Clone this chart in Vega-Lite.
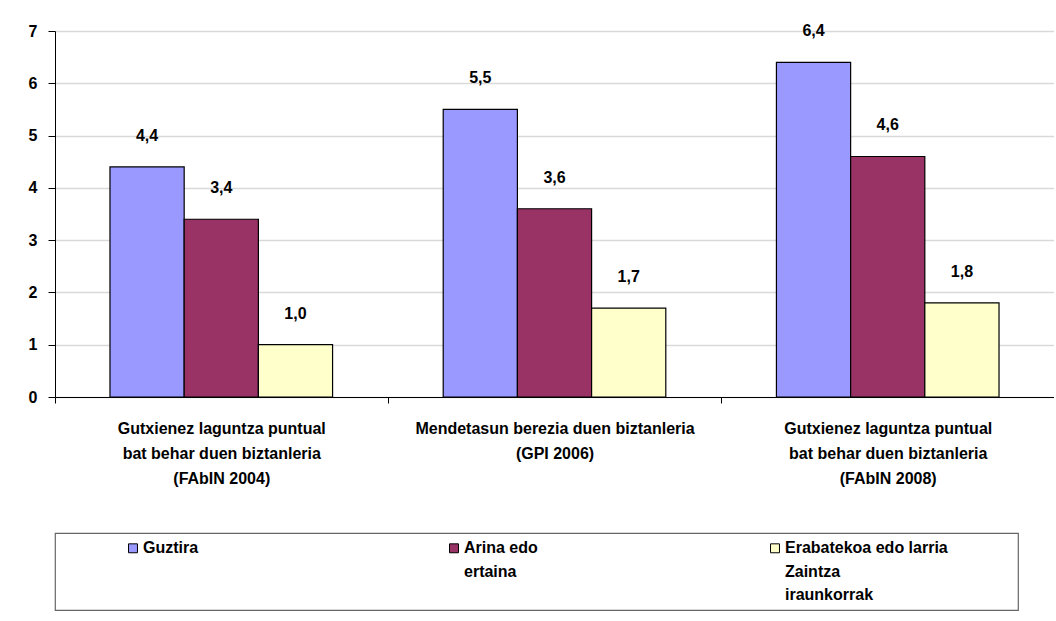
{
  "$schema": "https://vega.github.io/schema/vega-lite/v6.json",
  "background": "white",
  "padding": {"left": 28, "top": 23, "right": 0, "bottom": 0},
  "spacing": 46,
  "config": {
    "locale": {"number": {"decimal": ",", "thousands": ".", "grouping": [3], "currency": ["", " €"]}},
    "font": "Liberation Sans",
    "view": {"stroke": null}
  },
  "datasets": {
    "bars": [
      {"group": "Gutxienez laguntza puntual\nbat behar duen biztanleria\n(FAbIN 2004)", "series": "Guztira", "value": 4.4},
      {"group": "Gutxienez laguntza puntual\nbat behar duen biztanleria\n(FAbIN 2004)", "series": "Arina edo ertaina", "value": 3.4},
      {"group": "Gutxienez laguntza puntual\nbat behar duen biztanleria\n(FAbIN 2004)", "series": "Erabatekoa edo larria Zaintza iraunkorrak", "value": 1.0},
      {"group": "Mendetasun berezia duen biztanleria\n(GPI 2006)", "series": "Guztira", "value": 5.5},
      {"group": "Mendetasun berezia duen biztanleria\n(GPI 2006)", "series": "Arina edo ertaina", "value": 3.6},
      {"group": "Mendetasun berezia duen biztanleria\n(GPI 2006)", "series": "Erabatekoa edo larria Zaintza iraunkorrak", "value": 1.7},
      {"group": "Gutxienez laguntza puntual\nbat behar duen biztanleria\n(FAbIN 2008)", "series": "Guztira", "value": 6.4},
      {"group": "Gutxienez laguntza puntual\nbat behar duen biztanleria\n(FAbIN 2008)", "series": "Arina edo ertaina", "value": 4.6},
      {"group": "Gutxienez laguntza puntual\nbat behar duen biztanleria\n(FAbIN 2008)", "series": "Erabatekoa edo larria Zaintza iraunkorrak", "value": 1.8}
    ],
    "legendItems": [
      {"series": "Guztira", "line": 1, "text": "Guztira"},
      {"series": "Arina edo ertaina", "line": 1, "text": "Arina edo"},
      {"series": "Arina edo ertaina", "line": 2, "text": "ertaina"},
      {"series": "Erabatekoa edo larria Zaintza iraunkorrak", "line": 1, "text": "Erabatekoa edo larria"},
      {"series": "Erabatekoa edo larria Zaintza iraunkorrak", "line": 2, "text": "Zaintza"},
      {"series": "Erabatekoa edo larria Zaintza iraunkorrak", "line": 3, "text": "iraunkorrak"}
    ]
  },
  "vconcat": [
    {
      "width": 999,
      "height": 366,
      "data": {"name": "bars"},
      "encoding": {
        "x": {
          "field": "group", "type": "nominal", "sort": null, "title": null,
          "scale": {"paddingInner": 0.332, "paddingOuter": 0.165},
          "axis": {
            "labelAngle": 0, "labelExpr": "split(datum.label, '\\n')",
            "labelFontSize": 16, "labelFontWeight": "bold", "labelColor": "black",
            "labelLineHeight": 25, "labelLimit": 400, "labelPadding": 17, "labelBaseline": "top",
            "tickOffset": -166.6, "labelOffset": 166.6, "tickSize": 6, "tickColor": "black",
            "domainColor": "black", "grid": false
          }
        },
        "xOffset": {
          "field": "series", "type": "nominal",
          "sort": ["Guztira", "Arina edo ertaina", "Erabatekoa edo larria Zaintza iraunkorrak"],
          "scale": {"paddingInner": 0, "paddingOuter": 0}
        },
        "y": {
          "field": "value", "type": "quantitative", "title": null,
          "scale": {"domain": [0, 7], "nice": false},
          "axis": {
            "values": [0, 1, 2, 3, 4, 5, 6, 7], "format": "d",
            "labelFontSize": 16, "labelFontWeight": "bold", "labelColor": "black",
            "labelPadding": 11, "tickSize": 7, "tickColor": "black", "domainColor": "black",
            "gridColor": "#d9d9d9", "gridWidth": 1.5
          }
        }
      },
      "layer": [
        {
          "mark": {"type": "bar", "stroke": "black", "strokeWidth": 1.2},
          "encoding": {
            "color": {
              "field": "series", "type": "nominal",
              "scale": {
                "domain": ["Guztira", "Arina edo ertaina", "Erabatekoa edo larria Zaintza iraunkorrak"],
                "range": ["#9999FF", "#993366", "#FFFFCC"]
              },
              "legend": null
            }
          }
        },
        {
          "mark": {"type": "text", "dy": -31, "baseline": "middle", "fontWeight": "bold", "fontSize": 16, "color": "black"},
          "encoding": {"text": {"field": "value", "type": "quantitative", "format": ".1f"}}
        }
      ]
    },
    {
      "width": 963,
      "height": 77,
      "view": {"stroke": "#666666", "strokeWidth": 1.2},
      "data": {"name": "legendItems"},
      "encoding": {
        "x": {
          "field": "series", "type": "nominal", "sort": null, "axis": null,
          "scale": {"type": "point", "padding": 0, "domain": ["Guztira", "Arina edo ertaina", "Erabatekoa edo larria Zaintza iraunkorrak"], "range": [78, 720]}
        },
        "y": {
          "field": "line", "type": "ordinal", "axis": null,
          "scale": {"type": "point", "padding": 0.66}
        }
      },
      "layer": [
        {
          "transform": [{"filter": "datum.line == 1"}],
          "mark": {"type": "point", "shape": "square", "size": 80, "filled": true, "opacity": 1, "stroke": "black", "strokeWidth": 1},
          "encoding": {
            "color": {"field": "series", "type": "nominal", "legend": null}
          }
        },
        {
          "mark": {"type": "text", "align": "left", "baseline": "middle", "dx": 10, "fontWeight": "bold", "fontSize": 16, "color": "black"},
          "encoding": {"text": {"field": "text", "type": "nominal"}}
        }
      ]
    }
  ]
}
